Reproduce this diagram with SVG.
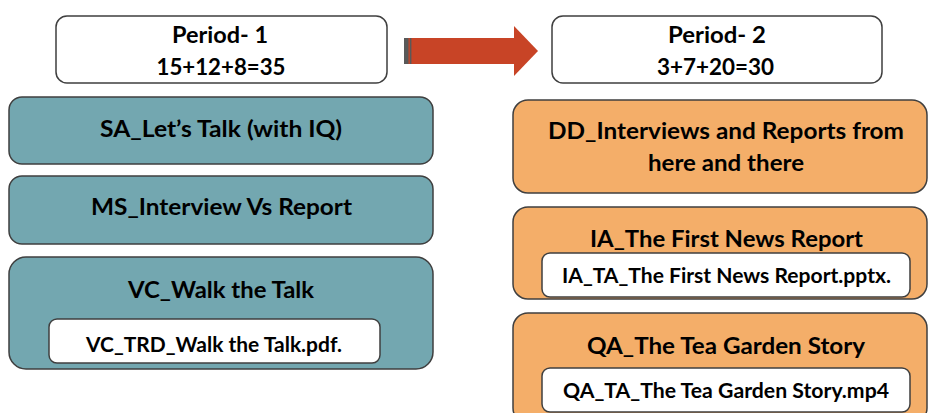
<svg xmlns="http://www.w3.org/2000/svg" width="929" height="413" viewBox="0 0 929 413">
<style>
.box{stroke:#3f3f3f;stroke-width:1.5}
.white{fill:#ffffff}
.teal{fill:#73a7b0}
.orange{fill:#f4ae69}
text{font-family:Lato,"Open Sans","Liberation Sans",sans-serif;font-weight:700;fill:#000;text-anchor:middle}
.t{font-size:23.5px}
.s{font-size:20px}
</style>
<rect width="929" height="413" fill="#ffffff"/>
<g id="connectors">
<g id="arrow">
<rect x="404" y="38" width="111" height="26" fill="#c84426"/>
<polygon points="514,26 538,51 514,76" fill="#c84426"/>
<rect x="404" y="38" width="4.5" height="26" fill="#595959"/>
<rect x="409.8" y="38" width="1.6" height="26" fill="#595959"/>
</g>
</g>
<g id="period1">
<rect class="box white" x="56" y="16" width="331" height="67" rx="11"/>
<text class="t" x="220" y="43" textLength="96" lengthAdjust="spacingAndGlyphs">Period- 1</text>
<text class="t" x="221" y="75" textLength="129" lengthAdjust="spacingAndGlyphs">15+12+8=35</text>
</g>
<g id="sa">
<rect class="box teal" x="9" y="97" width="424" height="67" rx="13"/>
<text class="t" x="221" y="137" textLength="242" lengthAdjust="spacingAndGlyphs">SA_Let’s Talk (with IQ)</text>
</g>
<g id="ms">
<rect class="box teal" x="9" y="176" width="424" height="68" rx="13"/>
<text class="t" x="221.5" y="215" textLength="261" lengthAdjust="spacingAndGlyphs">MS_Interview Vs Report</text>
</g>
<g id="vc">
<rect class="box teal" x="9" y="257" width="424" height="112" rx="17"/>
<text class="t" x="221" y="298" textLength="186" lengthAdjust="spacingAndGlyphs">VC_Walk the Talk</text>
<g id="vc_trd">
<rect class="box white" x="49" y="319" width="331" height="44" rx="8"/>
<text class="s" x="214" y="352" textLength="256" lengthAdjust="spacingAndGlyphs">VC_TRD_Walk the Talk.pdf.</text>
</g>
</g>
<g id="period2">
<rect class="box white" x="552" y="16" width="330" height="67" rx="11"/>
<text class="t" x="717" y="43" textLength="98" lengthAdjust="spacingAndGlyphs">Period- 2</text>
<text class="t" x="715.5" y="75" textLength="117" lengthAdjust="spacingAndGlyphs">3+7+20=30</text>
</g>
<g id="dd">
<rect class="box orange" x="513" y="100" width="414" height="93" rx="15"/>
<text class="t" x="726" y="139" textLength="356" lengthAdjust="spacingAndGlyphs">DD_Interviews and Reports from</text>
<text class="t" x="726" y="171" textLength="156" lengthAdjust="spacingAndGlyphs">here and there</text>
</g>
<g id="ia">
<rect class="box orange" x="513" y="207" width="414" height="92" rx="15"/>
<text class="t" x="726.5" y="247" textLength="273" lengthAdjust="spacingAndGlyphs">IA_The First News Report</text>
<g id="ia_ta">
<rect class="box white" x="542" y="253" width="368" height="44" rx="8"/>
<text class="s" x="726.5" y="283" textLength="329" lengthAdjust="spacingAndGlyphs">IA_TA_The First News Report.pptx.</text>
</g>
</g>
<g id="qa">
<rect class="box orange" x="513" y="313" width="414" height="110" rx="15"/>
<text class="t" x="726" y="354" textLength="278" lengthAdjust="spacingAndGlyphs">QA_The Tea Garden Story</text>
<g id="qa_ta">
<rect class="box white" x="542" y="368" width="368" height="44" rx="8"/>
<text class="s" x="726" y="398" textLength="326" lengthAdjust="spacingAndGlyphs">QA_TA_The Tea Garden Story.mp4</text>
</g>
</g>
</svg>
